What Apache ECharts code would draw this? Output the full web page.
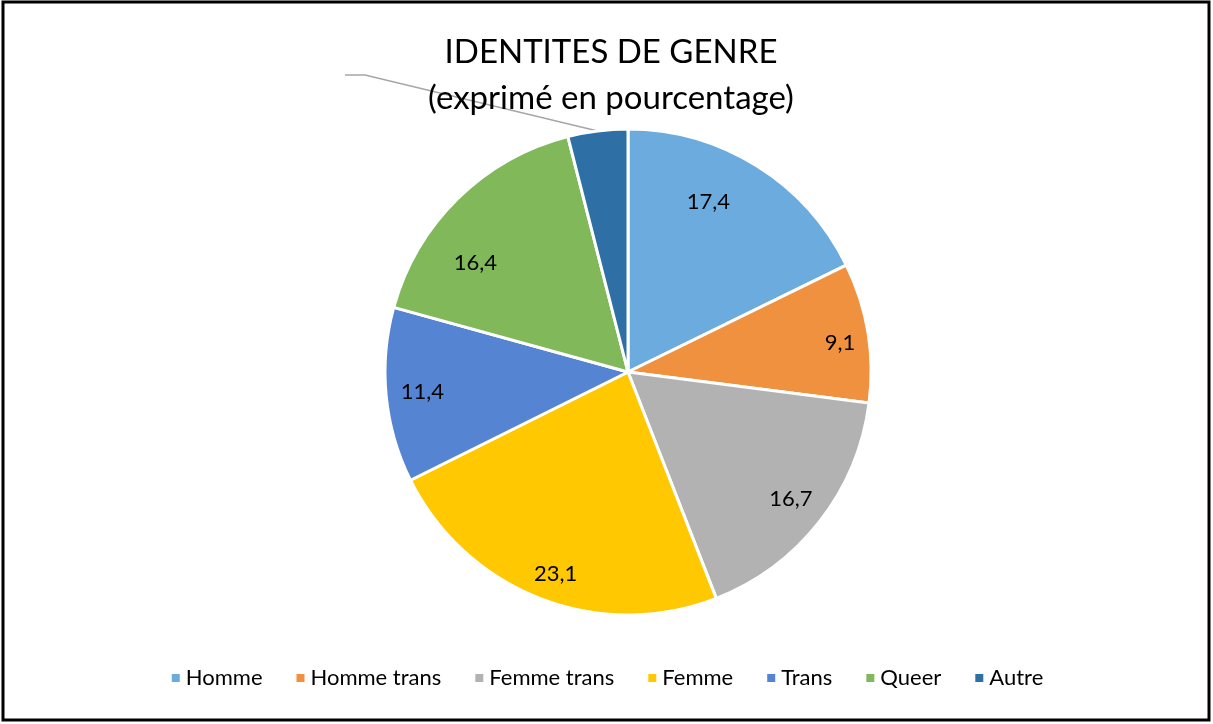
<!DOCTYPE html>
<html>
<head>
<meta charset="utf-8">
<script src="https://cdn.jsdelivr.net/npm/echarts@6/dist/echarts.min.js"></script>
<style>
  html, body { margin: 0; padding: 0; background: #fff; }
  #echartDom { width: 1213px; height: 724px; }
</style>
</head>
<body>
<div id="echartDom"></div>
<script>
// data
const categories = ['Homme', 'Homme trans', 'Femme trans', 'Femme', 'Trans', 'Queer', 'Autre'];
const values = [17.4, 9.1, 16.7, 23.1, 11.4, 16.4, 3.9];
const colors = ['#6CABDD', '#F0913F', '#B2B2B2', '#FFC800', '#5585D2', '#80B85A', '#2E6FA6'];

const cx = 628, cy = 372;
const labelScale = 1.66; // push inside labels out toward the rim
// small nudges so labels sit where the original placed them
const nudge = { 0: [-29, 5], 1: [8, 5], 3: [2, 9], 5: [-8, 38] };

window.onload = function () {
    const chart = echarts.init(document.getElementById('echartDom'));

    const data = categories.map((name, i) => {
        let item = { name: name, value: values[i], itemStyle: { color: colors[i] } };
        if (name === 'Autre') {
            item.label = { position: 'outside', formatter: '' };
            item.labelLine = { show: true, length: 20, length2: 20, lineStyle: { color: '#A6A6A6', width: 1.5 } };
        }
        return item;
    });

    let option = {
        backgroundColor: '#fff',
        textStyle: { fontFamily: 'Lato' },
        title: {
            text: 'IDENTITES DE GENRE\n(exprimé en pourcentage)',
            left: 606,
            top: 24,
            textAlign: 'center',
            textStyle: {
                fontFamily: 'Lato',
                fontWeight: 'normal',
                fontSize: 33,
                lineHeight: 46,
                color: '#000'
            }
        },
        legend: {
            bottom: 30,
            left: 'center',
            itemWidth: 10,
            itemHeight: 10,
            itemGap: 32,
            icon: 'rect',
            textStyle: { fontSize: 22, color: '#000', fontFamily: 'Lato' },
            data: categories
        },
        graphic: [{
            type: 'rect',
            shape: { x: 3, y: 2, width: 1206, height: 718 },
            style: { fill: 'none', stroke: '#000', lineWidth: 3 },
            silent: true
        }],
        series: [{
            type: 'pie',
            center: [cx, cy],
            radius: 243,
            startAngle: 90,
            clockwise: true,
            avoidLabelOverlap: false,
            itemStyle: { borderColor: '#fff', borderWidth: 3 },
            label: {
                position: 'inside',
                color: '#000',
                fontSize: 22,
                fontFamily: 'Lato',
                formatter: (p) => String(p.value).replace('.', ',')
            },
            labelLine: { show: false },
            labelLayout: function (params) {
                const r = params.labelRect;
                if (params.dataIndex === 6) {
                    return { x: 345, y: 75, align: 'right', verticalAlign: 'middle' };
                }
                const lx = r.x + r.width / 2, ly = r.y + r.height / 2;
                const d = nudge[params.dataIndex] || [0, 0];
                const nx = cx + (lx - cx) * labelScale + d[0];
                const ny = cy + (ly - cy) * labelScale + d[1];
                return { x: nx, y: ny, align: 'center', verticalAlign: 'middle' };
            },
            emphasis: { disabled: true },
            data: data
        }]
    };
    chart.setOption(option);
};
</script>
</body>
</html>
